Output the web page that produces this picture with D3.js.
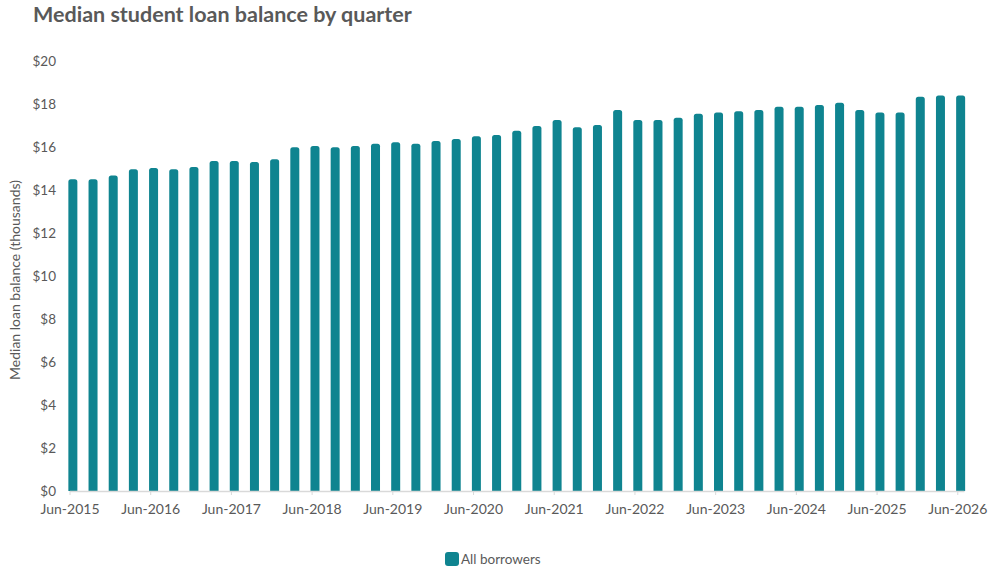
<!DOCTYPE html>
<html>
    <head>
        <meta charset="utf-8" />
        <title>Median student loan balance by quarter</title>
        <script src="https://d3js.org/d3.v7.min.js"></script>
        <style>
            body { margin: 0; background: #fff; }
            svg text { font-family: Lato, 'Open Sans', sans-serif; fill: #595959; }
        </style>
    </head>
    <body>
        <svg width="1000" height="578"></svg>
        <script>
            // quarterly points, Jun-2015 .. Jun-2026 (45 quarters)
            const quarters = d3.range(45)
            const balances = [
                14.50, 14.50, 14.67, 14.96, 15.02, 14.96, 15.07, 15.35, 15.35, 15.30,
                15.43, 15.99, 16.05, 15.99, 16.05, 16.15, 16.22, 16.15, 16.28, 16.37,
                16.50, 16.56, 16.76, 16.98, 17.26, 16.92, 17.02, 17.72, 17.26, 17.26,
                17.36, 17.55, 17.60, 17.66, 17.72, 17.87, 17.87, 17.95, 18.06, 17.72,
                17.60, 17.60, 18.34, 18.40, 18.40,
            ]
            const yearLabels = [
                'Jun-2015', 'Jun-2016', 'Jun-2017', 'Jun-2018', 'Jun-2019', 'Jun-2020',
                'Jun-2021', 'Jun-2022', 'Jun-2023', 'Jun-2024', 'Jun-2025', 'Jun-2026',
            ]
            const yTicks = [0, 2, 4, 6, 8, 10, 12, 14, 16, 18, 20]

            const svg = d3.select('svg')
            const color = '#0f8490'

            // month-based date axis, one slot per month
            const x = d3.scaleLinear().domain([0, 133]).range([69.5, 964])
            const y = d3.scaleLinear().domain([0, 20]).range([491, 61])

            svg.append('text')
                .attr('x', 33)
                .attr('y', 22)
                .style('font-size', '21.5px')
                .style('font-weight', 'bold')
                .style('fill', '#595959')
                .text('Median student loan balance by quarter')

            // y axis labels only
            const yAxis = svg.append('g')
                .attr('transform', 'translate(59,0)')
                .call(d3.axisLeft(y).tickValues(yTicks).tickSize(0).tickPadding(3)
                    .tickFormat((d) => '$' + d))
            yAxis.select('.domain').remove()
            yAxis.selectAll('text')
                .style('font-size', '13.5px')
                .style('font-family', 'Lato, sans-serif')
                .attr('fill', '#595959')

            svg.append('text')
                .attr('transform', 'translate(20,280) rotate(-90)')
                .attr('text-anchor', 'middle')
                .style('font-size', '14px')
                .text('Median loan balance (thousands)')

            const barW = 9
            const r = 2.5
            svg.append('g')
                .selectAll('path')
                .data(quarters)
                .join('path')
                .attr('fill', color)
                .attr('d', (i) => {
                    const cx = x(i * 3 + 0.5)
                    const x0 = cx - barW / 2
                    const x1 = cx + barW / 2
                    const y0 = y(0)
                    const yt = y(balances[i])
                    const p = d3.path()
                    p.moveTo(x0, y0)
                    p.lineTo(x0, yt + r)
                    p.arcTo(x0, yt, x0 + r, yt, r)
                    p.lineTo(x1 - r, yt)
                    p.arcTo(x1, yt, x1, yt + r, r)
                    p.lineTo(x1, y0)
                    p.closePath()
                    return p.toString()
                })

            // x axis
            const xAxis = svg.append('g')
                .attr('transform', `translate(0,${y(0)})`)
                .call(d3.axisBottom(x)
                    .tickValues(d3.range(0, 133, 12))
                    .tickSize(4)
                    .tickSizeOuter(0)
                    .tickPadding(9)
                    .tickFormat((d, i) => yearLabels[i]))
            xAxis.select('.domain').attr('stroke', '#d9d9d9').attr('stroke-width', 1.5)
            xAxis.selectAll('.tick line').attr('stroke', '#d9d9d9')
            xAxis.selectAll('text')
                .style('font-size', '14px')
                .style('font-family', 'Lato, sans-serif')
                .attr('fill', '#595959')

            // legend
            const legend = svg.append('g').attr('transform', 'translate(445,552)')
            legend.append('rect')
                .attr('width', 14)
                .attr('height', 14)
                .attr('rx', 3)
                .attr('fill', color)
            legend.append('text')
                .attr('x', 16)
                .attr('y', 11.5)
                .style('font-size', '13.5px')
                .text('All borrowers')
        </script>
    </body>
</html>
